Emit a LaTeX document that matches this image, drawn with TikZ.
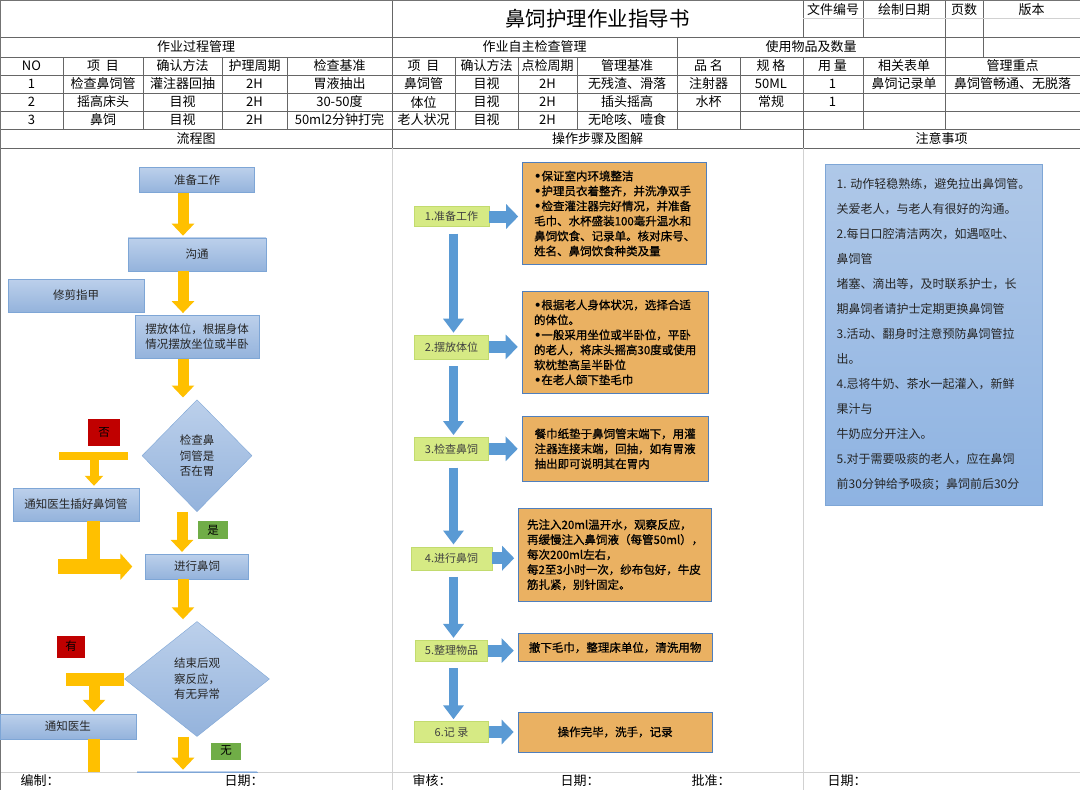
\documentclass[tikz,border=0pt]{standalone}
\usepackage{fontspec}
\setmainfont{Noto Sans CJK SC}
\newfontfamily\boldcjk[FakeBold=0.8]{Noto Sans CJK SC}
\newfontfamily\latinsans{DejaVu Sans}
\newcommand{\bul}{{\latinsans\bfseries •}}
\usepackage{tikz}
\usetikzlibrary{arrows.meta,positioning,shapes.geometric}
\definecolor{boxtop}{HTML}{BCD0EB}
\definecolor{boxbot}{HTML}{94B3DC}
\definecolor{boxline}{HTML}{7EA6D6}
\definecolor{gold}{HTML}{FFC000}
\definecolor{lime}{HTML}{D6EA84}
\definecolor{limeline}{HTML}{C2DB6E}
\definecolor{sand}{HTML}{EAB162}
\definecolor{sandline}{HTML}{4F7FBD}
\definecolor{flow}{HTML}{5A9AD4}
\definecolor{nored}{HTML}{C00000}
\definecolor{okgreen}{HTML}{70AD47}
\definecolor{notetop}{HTML}{AFC8E8}
\definecolor{notebot}{HTML}{8EB3E2}

\begin{document}
\begin{tikzpicture}[
  x=1pt, y=-1pt,
  grid/.style={draw=black!60, line width=0.6pt},
  faint/.style={draw=black!18, line width=0.6pt},
  cell/.style={font=\fontsize{13}{13}\selectfont, inner sep=0pt},
  flowbox/.style={draw=boxline, top color=boxtop, bottom color=boxbot, align=center, font=\fontsize{11.5}{15.5}\selectfont, inner sep=2pt, text=black!85},
  dia/.style={flowbox, diamond, inner sep=0pt},
  tag/.style={inner sep=0pt, font=\fontsize{11.5}{11.5}\selectfont},
  stepbox/.style={draw=limeline, fill=lime, font=\fontsize{11}{11}\selectfont, inner sep=0pt, text=black!75},
  sandbox/.style={draw=sandline, fill=sand, line width=0.9pt, align=left, font=\boldcjk\fontsize{11.5}{15}\selectfont, inner sep=0pt},
  yarr/.style={draw=gold, line width=11pt, -{Triangle[width=22pt,length=12pt]}, shorten >=2pt},
  ybar/.style={draw=gold, line width=12pt},
  darr/.style={draw=flow, line width=9pt, -{Triangle[width=20pt,length=14pt]}},
  rarr/.style={draw=flow, line width=12pt, -{Triangle[width=24pt,length=12pt]}, shorten >=4pt}
]
\useasboundingbox (0,0) rectangle (1080,790);
\fill[white] (0,0) rectangle (1080,790);

\foreach \y in {37,57,75,93,111,129,148} \draw[grid] (0,\y) -- (1080,\y);
\foreach \x/\a/\b in {392/0/148, 803/0/37, 803/57/148, 863/0/37, 863/57/129, 945/0/129, 983/0/57, 677/37/129, 740/57/129, 63/57/129, 143/57/129, 222/57/129, 287/57/129, 455/57/129, 518/57/129, 577/57/129}
  \draw[grid] (\x,\a) -- (\x,\b);
\draw[faint] (803,18.5) -- (1080,18.5);
\draw[faint] (392,148) -- (392,790) (803,148) -- (803,790) (0,772) -- (1080,772);
\draw[black!55, line width=1pt] (0,0) rectangle (1080,790);

\node[font=\fontsize{20.5}{22}\selectfont] (title) at (597.5,19) {鼻饲护理作业指导书};
\node[cell] (docno) at (833,9.5) {文件编号};
\node[cell] (drawn) at (904,9.5) {绘制日期};
\node[cell] (pages) at (964,9.5) {页数};
\node[cell] (ver) at (1031.5,9.5) {版本};
\node[cell] (grpA) at (196,47) {作业过程管理};
\node[cell] (grpB) at (534.5,47) {作业自主检查管理};
\node[cell] (grpC) at (811,47) {使用物品及数量};
\foreach \x/\h/\a/\b/\c [count=\i] in {31.5/NO/1/2/3, 103/项\ \ 目/检查鼻饲管/摇高床头/鼻饲, 182.5/确认方法/灌注器回抽/目视/目视, 254.5/护理周期/2H/2H/2H, 339.5/检查基准/胃液抽出/30-50度/50ml2分钟打完, 423.5/项\ \ 目/鼻饲管/体位/老人状况, 486.5/确认方法/目视/目视/目视, 547.5/点检周期/2H/2H/2H, 627/管理基准/无残渣、滑落/插头摇高/无呛咳、噎食, 708.5/品\ 名/注射器/水杯/{}, 771/规\ 格/50ML/常规/{}, 832.5/用\ 量/1/1/{}, 904/相关表单/鼻饲记录单/{}/{}, 1012.5/管理重点/鼻饲管畅通、无脱落/{}/{}}{
  \node[cell] (h\i) at (\x,66) {\h};
  \node[cell] (ra\i) at (\x,84) {\a};
  \node[cell] (rb\i) at (\x,102) {\b};
  \node[cell] (rc\i) at (\x,120) {\c};
}
\node[cell] (secA) at (196,138.5) {流程图};
\node[cell] (secB) at (597.5,138.5) {操作步骤及图解};
\node[cell] (secC) at (941.5,138.5) {注意事项};

\begin{scope}
\clip (0,148) rectangle (392,772);
\node[flowbox, minimum width=115pt, minimum height=25pt] (prep) at (197,180) {准备工作};
\node[flowbox, minimum width=138pt, minimum height=33pt, below=45pt of prep] (talk) {沟通};
\node[flowbox, minimum width=124pt, minimum height=43pt, below=44pt of talk] (pose) {摆放体位，根据身体\\情况摆放坐位或半卧};
\node[dia, minimum width=110pt, minimum height=112pt, below=41pt of pose] (chk) {检查鼻\\饲管是\\否在胃};
\node[flowbox, minimum width=103pt, minimum height=25pt, below=42pt of chk] (feed) {进行鼻饲};
\node[dia, minimum width=145pt, minimum height=115pt, below=42pt of feed] (obs) {结束后观\\察反应，\\有无异常};
\node[flowbox, minimum width=120pt, minimum height=25pt, below=35pt of obs] (done) {};
\node[flowbox, minimum width=136pt, minimum height=33pt] (trim) at (76,295.5) {修剪指甲};
\node[flowbox, minimum width=126pt, minimum height=33pt] (tell1) at (76,504.5) {通知医生插好鼻饲管};
\node[flowbox, minimum width=136pt, minimum height=25pt] (tell2) at (68,726.5) {通知医生};
\node[tag, fill=nored, minimum width=32pt, minimum height=27pt] (no1) at (104,432) {否};
\node[tag, fill=okgreen, minimum width=30pt, minimum height=18pt] (yes1) at (213,530) {是};
\node[tag, fill=nored, minimum width=28pt, minimum height=22pt] (yes2) at (71,646.5) {有};
\node[tag, fill=okgreen, minimum width=30pt, minimum height=17pt] (no2) at (226,751) {无};
\draw[yarr] ([xshift=-14pt]prep.south) -- ([xshift=-14pt]talk.north);
\draw[yarr] ([xshift=-14pt]talk.south) -- ([xshift=-14pt]pose.north);
\draw[yarr] ([xshift=-14pt]pose.south) -- ([xshift=-14pt]pose.south |- chk.north);
\draw[yarr] ([xshift=-15pt]chk.south) -- ([xshift=-15pt]feed.north);
\draw[yarr] ([xshift=-14pt]feed.south) -- ([xshift=-14pt]feed.south |- obs.north);
\draw[yarr] ([xshift=-14pt]obs.south) -- ([xshift=-14pt]done.north);
\coordinate (kinkA) at ([xshift=18pt]tell1.north);
\coordinate (kinkB) at ([xshift=17pt]tell1.south);
\coordinate (kinkC) at ([xshift=26pt]tell2.north);
\coordinate (kinkD) at ([xshift=26pt]tell2.south);
\draw[ybar, line width=8pt] ([xshift=-14pt]chk.west) -- ([xshift=-83pt]chk.west);
\draw[yarr, line width=9pt, -{Triangle[width=18pt,length=10pt]}] (kinkA |- chk.west) -- (kinkA);
\draw[ybar, line width=13pt] (kinkB) -- (kinkB |- feed.west);
\draw[yarr, line width=15pt, -{Triangle[width=26pt,length=12pt]}] ([xshift=-87pt]feed.west) -- ([xshift=-11pt]feed.west);
\draw[ybar, line width=13pt] (obs.west) -- ([xshift=-58pt]obs.west);
\draw[yarr] (kinkC |- obs.west) -- (kinkC);
\draw[ybar] (kinkD) -- (kinkD |- done.north);
\end{scope}

\node[stepbox, minimum width=75pt, minimum height=20pt] (s1) at (451.5,216.5) {1.准备工作};
\node[stepbox, minimum width=74pt, minimum height=24pt, below=108pt of s1] (s2) {2.摆放体位};
\node[stepbox, minimum width=74pt, minimum height=23pt, below=78pt of s2] (s3) {3.检查鼻饲};
\node[stepbox, minimum width=81pt, minimum height=23pt, below=86pt of s3] (s4) {4.进行鼻饲};
\node[stepbox, minimum width=72pt, minimum height=21pt, below=70pt of s4] (s5) {5.整理物品};
\node[stepbox, minimum width=74pt, minimum height=21pt, below=60pt of s5] (s6) {6.记\ 录};
\node[sandbox, minimum width=184pt, minimum height=102pt, right=33pt of s1, yshift=3pt] (b1) {\bul 保证室内环境整洁\\\bul 护理员衣着整齐，并洗净双手\\\bul 检查灌注器完好情况，并准备\\毛巾、水杯盛装100毫升温水和\\鼻饲饮食、记录单。核对床号、\\姓名、鼻饲饮食种类及量};
\node[sandbox, minimum width=186pt, minimum height=102pt, right=33pt of s2, yshift=4.5pt] (b2) {\bul 根据老人身体状况，选择合适\\的体位。\\\bul 一般采用坐位或半卧位，平卧\\的老人，将床头摇高30度或使用\\软枕垫高呈半卧位\\\bul 在老人颌下垫毛巾};
\node[sandbox, minimum width=186pt, minimum height=65pt, right=33pt of s3] (b3) {餐巾纸垫于鼻饲管末端下，用灌\\注器连接末端，回抽，如有胃液\\抽出即可说明其在胃内};
\node[sandbox, minimum width=193pt, minimum height=93pt, right=26pt of s4, yshift=3.5pt] (b4) {先注入20ml温开水，观察反应，\\再缓慢注入鼻饲液（每管50ml），\\每次200ml左右，\\每2至3小时一次，纱布包好，牛皮\\筋扎紧，别针固定。};
\node[sandbox, minimum width=194pt, minimum height=28pt, right=30pt of s5, yshift=3pt] (b5) {撤下毛巾，整理床单位，清洗用物};
\node[sandbox, minimum width=194pt, minimum height=40pt, right=29pt of s6, align=center] (b6) {操作完毕，洗手，记录};
\foreach \a/\b in {s1/s2, s2/s3, s3/s4, s4/s5, s5/s6}
  \draw[darr, shorten <=7pt, shorten >=2pt] ([xshift=2pt]\a.south) -- ([xshift=2pt]\b.north);
\foreach \a/\b in {s1/b1, s2/b2, s3/b3, s4/b4, s5/b5, s6/b6}
  \draw[rarr] (\a.east) -- (\a.east -| \b.west);

\node[draw=boxline, top color=notetop, bottom color=notebot, minimum width=217pt, minimum height=341pt, align=left, font=\fontsize{12}{25}\selectfont, inner sep=0pt, text=black!85] (tips) at (933.5,334.5) {1. 动作轻稳熟练，避免拉出鼻饲管。\\关爱老人，与老人有很好的沟通。\\2.每日口腔清洁两次，如遇呕吐、\\鼻饲管\\堵塞、滴出等，及时联系护士，长\\期鼻饲者请护士定期更换鼻饲管\\3.活动、翻身时注意预防鼻饲管拉\\出。\\4.忌将牛奶、茶水一起灌入，新鲜\\果汁与\\牛奶应分开注入。\\5.对于需要吸痰的老人，应在鼻饲\\前30分钟给予吸痰；鼻饲前后30分};

\node[cell] (signA) at (40,781) {编制：};
\node[cell] (dateA) at (244,781) {日期：};
\node[cell] (signB) at (432,781) {审核：};
\node[cell] (dateB) at (580,781) {日期：};
\node[cell] (signC) at (711,781) {批准：};
\node[cell] (dateC) at (847,781) {日期：};
\end{tikzpicture}
\end{document}
